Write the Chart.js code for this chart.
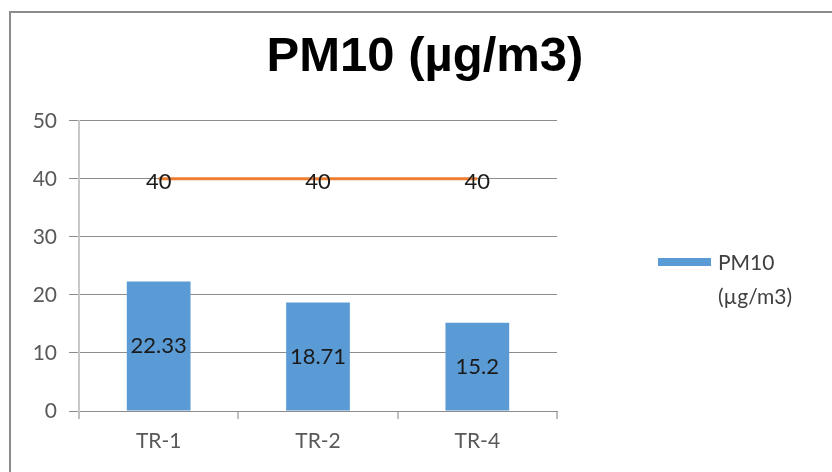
<!DOCTYPE html>
<html>
<head>
<meta charset="utf-8">
<script src="https://cdn.jsdelivr.net/npm/chart.js@4.4.0/dist/chart.umd.min.js"></script>
<style>
  html, body { margin: 0; padding: 0; background: #fff; }
  #wrap { width: 832px; height: 472px; position: relative; }
</style>
</head>
<body>
<div id="wrap"><canvas id="chart_pm10"></canvas></div>
<script>
// data
var categories = ['TR-1', 'TR-2', 'TR-4'];
var pm10Values = [22.33, 18.71, 15.2];
var limitValues = [40, 40, 40];
var titleText = 'PM10 (µg/m3)';
var legendLines = ['PM10', '(µg/m3)'];

var labelFont = 'Lato, "Open Sans", sans-serif';

// value labels in the middle of bars / on the line points
var valueLabels = {
    id: 'valueLabels',
    afterDatasetsDraw: (chart) => {
        const ctx = chart.ctx;
        ctx.save();
        ctx.font = '22px ' + labelFont;
        ctx.fillStyle = '#1a1a1a';
        ctx.textAlign = 'center';
        ctx.textBaseline = 'middle';
        chart.data.datasets.forEach((ds, i) => {
            const meta = chart.getDatasetMeta(i);
            meta.data.forEach((el, j) => {
                const v = ds.data[j];
                let y = el.y;
                if (meta.type === 'bar') {
                    y = (el.y + el.base) / 2;
                } else {
                    y = el.y + 3;
                }
                ctx.fillText(String(v), el.x, y);
            });
        });
        ctx.restore();
    }
};

// legend on the right and the outer frame
var sideLegend = {
    id: 'sideLegend',
    afterDraw: (chart) => {
        const ctx = chart.ctx;
        ctx.save();
        ctx.strokeStyle = '#8c8c8c';
        ctx.lineWidth = 2;
        ctx.beginPath();
        ctx.moveTo(832, 12);
        ctx.lineTo(10, 12);
        ctx.lineTo(10, 472);
        ctx.stroke();

        const x0 = 658, y0 = 258;
        ctx.fillStyle = chart.data.datasets[0].backgroundColor;
        ctx.fillRect(x0, y0, 53, 8);
        ctx.font = '21px ' + labelFont;
        ctx.fillStyle = '#404040';
        ctx.textAlign = 'left';
        ctx.textBaseline = 'middle';
        legendLines.forEach((t, i) => {
            ctx.fillText(t, 718, 263 + i * 34);
        });
        ctx.restore();
    }
};

var chart_pm10 = new Chart(document.getElementById('chart_pm10'), {
    type: 'bar',
    data: {
        labels: categories,
        datasets: [
            {
                type: 'bar',
                label: 'PM10 (µg/m3)',
                data: pm10Values,
                backgroundColor: '#5B9BD5',
                barPercentage: 0.4,
                categoryPercentage: 1.0,
                order: 2
            },
            {
                type: 'line',
                label: 'Limit',
                data: limitValues,
                borderColor: '#ED7D31',
                borderWidth: 3,
                pointRadius: 0,
                fill: false,
                order: 1
            }
        ]
    },
    options: {
        animation: false,
        responsive: true,
        maintainAspectRatio: false,
        layout: {
            padding: { left: 18, right: 0, top: 0, bottom: 0 }
        },
        plugins: {
            legend: { display: false },
            tooltip: { enabled: false },
            title: {
                display: true,
                text: titleText,
                color: '#000',
                font: { family: '"Liberation Sans", Arial, sans-serif', size: 49, weight: 'bold' },
                padding: { top: 28, bottom: 34 },
                align: 'center',
                fullSize: true
            }
        },
        scales: {
            x: {
                grid: {
                    display: true,
                    offset: true,
                    drawOnChartArea: false,
                    drawTicks: true,
                    tickLength: 8,
                    color: '#bfbfbf',
                    lineWidth: 2
                },
                border: { display: true, color: '#8c8c8c', width: 1 },
                ticks: {
                    color: '#595959',
                    font: { family: labelFont, size: 21 },
                    padding: 10
                },
                afterFit: (scale) => { scale.height = 61; }
            },
            y: {
                min: 0,
                max: 50,
                grid: {
                    color: '#8c8c8c',
                    lineWidth: 1,
                    tickLength: 10
                },
                border: { display: true, color: '#c8c8c8', width: 2 },
                ticks: {
                    stepSize: 10,
                    color: '#595959',
                    font: { family: labelFont, size: 21 },
                    padding: 12
                },
                afterFit: (scale) => { scale.width = 61; }
            },
            // empty right-hand axis that reserves the room for the legend
            yRight: {
                position: 'right',
                display: true,
                min: 0,
                max: 50,
                grid: { display: false, drawTicks: false },
                border: { display: false },
                ticks: { display: false },
                afterFit: (scale) => { scale.width = 275; }
            }
        }
    },
    plugins: [valueLabels, sideLegend, {
        id: 'whiteBg',
        beforeDraw: (chart) => {
            const ctx = chart.canvas.getContext('2d');
            ctx.save();
            ctx.globalCompositeOperation = 'destination-over';
            ctx.fillStyle = 'white';
            ctx.fillRect(0, 0, chart.canvas.width, chart.canvas.height);
            ctx.restore();
        }
    }]
});
</script>
</body>
</html>
